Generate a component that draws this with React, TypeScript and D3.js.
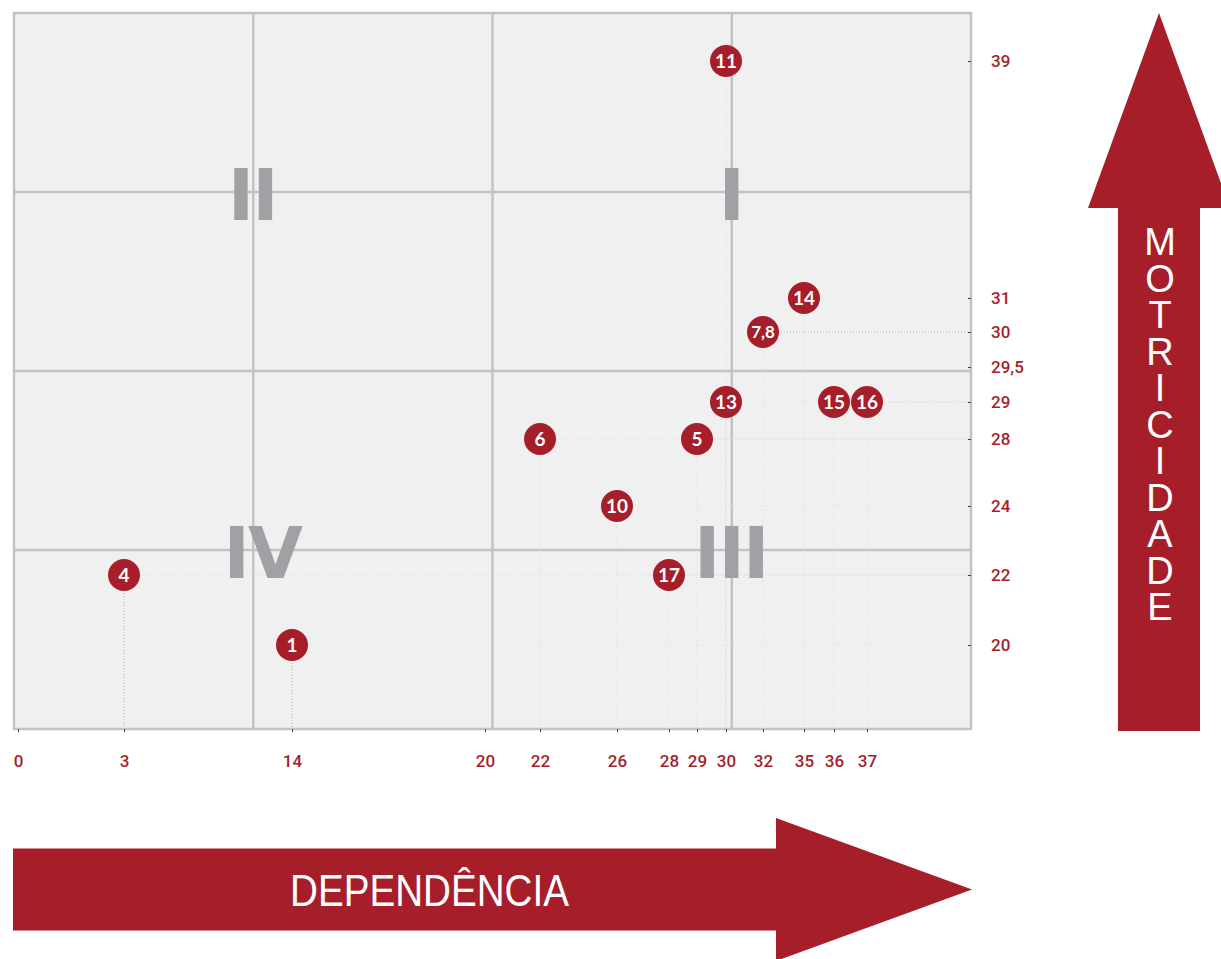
import React, { useEffect, useRef } from "react";
import * as d3 from "d3";

// tick values (the original axes are not linear)
const depTicks = [0, 3, 14, 20, 22, 26, 28, 29, 30, 32, 35, 36, 37];
const motTicks = [20, 22, 24, 28, 29, 29.5, 30, 31, 39];

// points: label, dependência (x), motricidade (y)
const pointLabels = ["11", "14", "7,8", "13", "15", "16", "6", "5", "10", "17", "4", "1"];
const pointDep = [30, 35, 32, 30, 36, 37, 22, 29, 26, 28, 3, 14];
const pointMot = [39, 31, 30, 29, 29, 29, 28, 28, 24, 22, 22, 20];

// quadrant names
const quadrants = ["I", "II", "III", "IV"];

// guides that are drawn darker in the original
const strongH = ["7,8"];
const strongV = ["1", "4"];

const RED = "#a61e2a";

export default function App() {
  const ref = useRef<SVGSVGElement>(null);

  useEffect(() => {
    const svg = d3.select(ref.current);
    svg.selectAll("*").remove();

    // plot frame
    const x0 = 14, x1 = 971, y0 = 13, y1 = 729;
    const w = x1 - x0, h = y1 - y0;

    // piecewise scales to follow the irregular tick spacing
    const x = d3
      .scaleLinear()
      .domain(depTicks)
      .range([18, 124, 292, 485, 540, 617, 669, 697, 726, 763, 804, 834, 867]);
    const y = d3
      .scaleLinear()
      .domain(motTicks)
      .range([645, 575, 506, 439, 402, 367, 332, 298, 61]);

    const g = svg.append("g");

    // background
    g.append("rect")
      .attr("x", x0)
      .attr("y", y0)
      .attr("width", w)
      .attr("height", h)
      .attr("fill", "#f0f0f0");

    // 4x4 grid
    const gridX = d3.range(1, 4).map((k) => x0 + (w / 4) * k);
    const gridY = d3.range(1, 4).map((k) => y0 + (h / 4) * k);
    g.selectAll(".vgrid")
      .data(gridX)
      .join("line")
      .attr("x1", (d) => d)
      .attr("x2", (d) => d)
      .attr("y1", y0)
      .attr("y2", y1)
      .attr("stroke", "#c3c3c5")
      .attr("stroke-width", 2.5);
    g.selectAll(".hgrid")
      .data(gridY)
      .join("line")
      .attr("x1", x0)
      .attr("x2", x1)
      .attr("y1", (d) => d)
      .attr("y2", (d) => d)
      .attr("stroke", "#c3c3c5")
      .attr("stroke-width", 2.5);

    // dotted guides from every point to the right edge and to the bottom
    pointLabels.forEach((lab, i) => {
      const px = x(pointDep[i]), py = y(pointMot[i]);
      g.append("line")
        .attr("x1", px)
        .attr("x2", x1)
        .attr("y1", py)
        .attr("y2", py)
        .attr("stroke", strongH.includes(lab) ? "#b4b4b4" : "#dedede")
        .attr("stroke-width", 1)
        .attr("stroke-dasharray", "1,2");
      g.append("line")
        .attr("x1", px)
        .attr("x2", px)
        .attr("y1", py)
        .attr("y2", y1)
        .attr("stroke", strongV.includes(lab) ? "#b4b4b4" : "#dedede")
        .attr("stroke-width", 1)
        .attr("stroke-dasharray", "1,2");
    });

    // quadrant numerals
    const quadPos = [
      [gridX[2], gridY[0]],
      [gridX[0], gridY[0]],
      [gridX[2], gridY[2]],
      [gridX[0] + 10, gridY[2]],
    ];
    g.selectAll(".quad")
      .data(quadrants)
      .join("text")
      .attr("x", (d, i) => quadPos[i][0] - 1)
      .attr("y", (d, i) => quadPos[i][1] + 28)
      .attr("text-anchor", "middle")
      .attr("font-family", "'DejaVu Sans', sans-serif")
      .attr("font-weight", "bold")
      .attr("font-size", 71)
      .attr("letter-spacing", -2)
      .attr("fill", "#a0a1a5")
      .text((d) => d);

    // frame
    g.append("rect")
      .attr("x", x0)
      .attr("y", y0)
      .attr("width", w)
      .attr("height", h)
      .attr("fill", "none")
      .attr("stroke", "#c3c3c5")
      .attr("stroke-width", 2.5);

    // axes
    const fmt = (d) => String(d).replace(".", ",");
    const xAxis = g
      .append("g")
      .attr("transform", `translate(0, ${y1})`)
      .call(d3.axisBottom(x).tickValues(depTicks).tickSizeInner(3).tickSizeOuter(0).tickPadding(23).tickFormat(fmt));
    const yAxis = g
      .append("g")
      .attr("transform", `translate(${x1}, 0)`)
      .call(d3.axisRight(y).tickValues(motTicks).tickSizeInner(-3).tickSizeOuter(0).tickPadding(20).tickFormat(fmt));
    [xAxis, yAxis].forEach((a) => {
      a.select(".domain").remove();
      a.selectAll("line").attr("stroke", "#444").attr("stroke-width", 1);
      a.selectAll("text")
        .attr("fill", RED)
        .attr("font-family", "Roboto, 'Liberation Sans', sans-serif")
        .attr("font-weight", 500)
        .attr("font-size", 17);
    });

    // bubbles
    const pts = g
      .selectAll(".pt")
      .data(pointLabels)
      .join("g")
      .attr("transform", (d, i) => `translate(${x(pointDep[i])}, ${y(pointMot[i])})`);
    pts.append("circle").attr("r", 16).attr("fill", RED);
    pts.append("text")
      .attr("text-anchor", "middle")
      .attr("dy", "0.36em")
      .attr("fill", "white")
      .attr("font-family", "Lato, 'Open Sans', sans-serif")
      .attr("font-weight", "bold")
      .attr("font-size", (d) => (d.length > 2 ? 17 : 19))
      .text((d) => d);

    // MOTRICIDADE arrow (right)
    const ax = 1159;
    svg.append("path")
      .attr("d", `M${ax - 41},731 L${ax - 41},208 L${ax - 71},208 L${ax},13 L${ax + 71},208 L${ax + 41},208 L${ax + 41},731 Z`)
      .attr("fill", RED);
    svg.append("text")
      .attr("x", ax + 1)
      .attr("y", 221)
      .attr("fill", "white")
      .attr("font-family", "'Liberation Sans', Arial, sans-serif")
      .attr("font-size", 38)
      .attr("letter-spacing", -5.5)
      .style("writing-mode", "vertical-rl")
      .style("text-orientation", "upright")
      .text("MOTRICIDADE");

    // DEPENDÊNCIA arrow (bottom)
    const ay = 889.5;
    svg.append("path")
      .attr("d", `M13,${ay - 41} L776,${ay - 41} L776,${ay - 71.5} L972,${ay} L776,${ay + 71.5} L776,${ay + 41} L13,${ay + 41} Z`)
      .attr("fill", RED);
    svg.append("text")
      .attr("x", 290)
      .attr("y", ay + 16)
      .attr("fill", "white")
      .attr("font-family", "'Liberation Sans Narrow', 'Liberation Sans', Arial, sans-serif")
      .attr("font-size", 44)
      .attr("textLength", 279)
      .attr("lengthAdjust", "spacingAndGlyphs")
      .text("DEPENDÊNCIA");
  }, []);

  return (
    <svg
      ref={ref}
      width={1221}
      height={959}
      style={{ position: "absolute", left: 0, top: 0, background: "white" }}
    />
  );
}
